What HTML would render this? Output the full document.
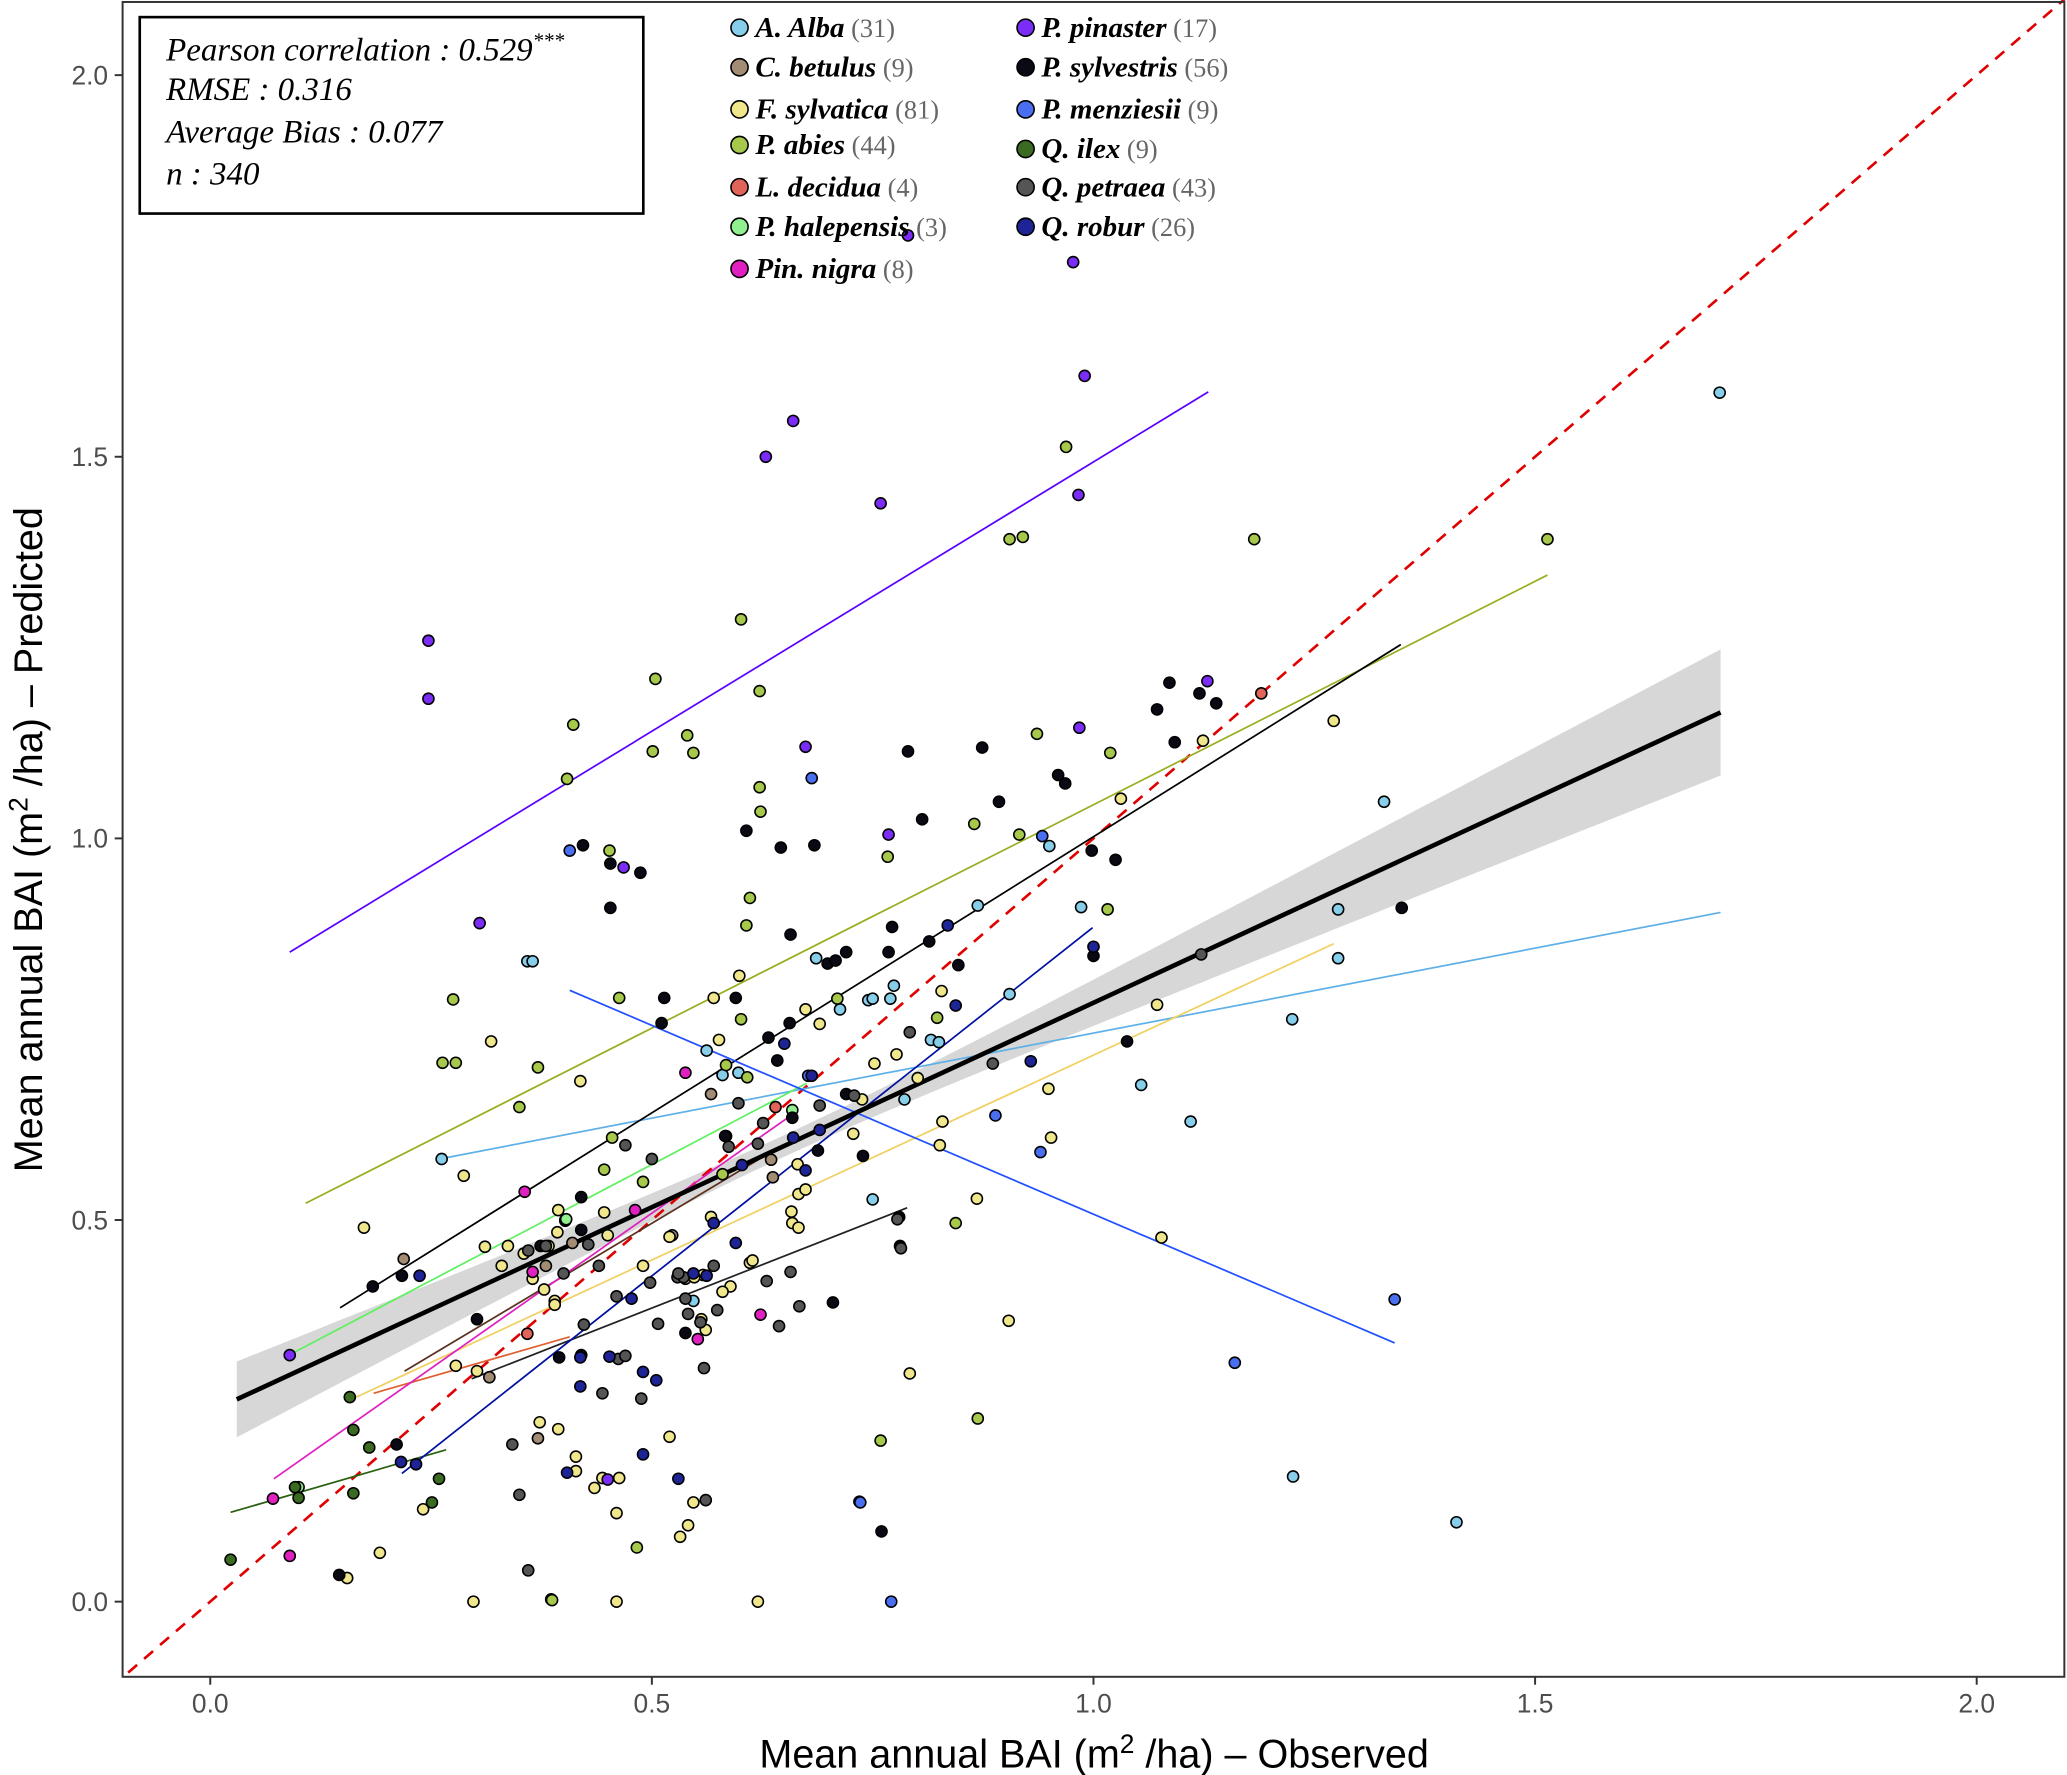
<!DOCTYPE html>
<html><head><meta charset="utf-8"><style>
html,body{margin:0;padding:0;background:#fff;}
svg{display:block;}
</style></head><body>
<svg id="chart" xmlns="http://www.w3.org/2000/svg" width="2067" height="1775" viewBox="0 0 1568 1346.5">
<rect x="0" y="0" width="1568" height="1346.5" fill="#fff"/>
<g id="grid"></g>
<g id="band"></g>
<g id="lines"></g>
<g id="points"></g>
<rect x="93" y="1.5" width="1473" height="1270.5" fill="none" stroke="#333" stroke-width="1.5"/>
<g id="axes"></g>
<g>
<rect x="106" y="13" width="382" height="149" fill="#fff" stroke="#000" stroke-width="2"/>
<text x="126" y="46" font-family="Liberation Serif, serif" font-style="italic" font-size="25">Pearson correlation : 0.529<tspan dy="-10" font-size="16">***</tspan></text>
<text x="126" y="76" font-family="Liberation Serif, serif" font-style="italic" font-size="25">RMSE : 0.316</text>
<text x="126" y="108" font-family="Liberation Serif, serif" font-style="italic" font-size="25">Average Bias : 0.077</text>
<text x="126" y="140" font-family="Liberation Serif, serif" font-style="italic" font-size="25">n : 340</text>
</g>
<g id="legend"></g>
<text x="830" y="1341" text-anchor="middle" font-family="Liberation Sans, sans-serif" font-size="30" fill="#000">Mean annual BAI (m<tspan dy="-11" font-size="20">2</tspan><tspan dy="11"> /ha) – Observed</tspan></text>
<text transform="translate(32,637) rotate(-90)" text-anchor="middle" font-family="Liberation Sans, sans-serif" font-size="30" fill="#000">Mean annual BAI (m<tspan dy="-11" font-size="20">2</tspan><tspan dy="11"> /ha) – Predicted</tspan></text>
</svg>
<script>
const NS='http://www.w3.org/2000/svg';
const xTicks=[0,0.5,1.0,1.5,2.0];
const xTickLabels=['0.0','0.5','1.0','1.5','2.0'];
const yTicks=[0,0.5,1.0,1.5,2.0];
const yTickLabels=['0.0','0.5','1.0','1.5','2.0'];
const species=['A. Alba','C. betulus','F. sylvatica','P. abies','L. decidua','P. halepensis','Pin. nigra','P. pinaster','P. sylvestris','P. menziesii','Q. ilex','Q. petraea','Q. robur'];
const counts=[31,9,81,44,4,3,8,17,56,9,9,43,26];
const fills=['#87CEEB','#A38C74','#F0E68C','#A6C84B','#E0645A','#90F090','#E020C0','#7B2CF6','#0A0A14','#4A6EF0','#3A6B20','#555555','#1E2496'];
const lineColors=['#5fb0e6','#5a3020','#f0d060','#9aad1f','#e06030','#60f060','#e020c0','#5a00ff','#000000','#2050ff','#2a6010','#222222','#0010a0'];
const fitLines=[[0.255,0.579,1.71,0.903],[0.22,0.302,0.632,0.587],[0.156,0.263,1.272,0.862],[0.108,0.522,1.514,1.345],[0.185,0.273,0.407,0.347],[0.089,0.323,0.675,0.679],[0.072,0.161,0.66,0.639],[0.09,0.851,1.13,1.585],[0.147,0.385,1.348,1.254],[0.407,0.801,1.341,0.339],[0.023,0.117,0.267,0.199],[0.296,0.292,0.789,0.516],[0.217,0.168,0.999,0.883]];
const pAlba=[[1.709,1.584],[1.329,1.048],[1.277,0.907],[1.277,0.843],[1.225,0.763],[1.054,0.677],[1.11,0.629],[0.986,0.91],[0.905,0.796],[0.869,0.912],[0.686,0.843],[0.774,0.807],[0.713,0.776],[0.745,0.788],[0.816,0.736],[0.825,0.733],[0.786,0.658],[0.562,0.722],[0.262,0.58],[0.359,0.839],[0.365,0.839],[0.547,0.394],[0.75,0.527],[1.226,0.164],[1.411,0.104],[0.402,0.499],[0.598,0.693],[0.58,0.69],[0.77,0.79],[0.75,0.79],[0.95,0.99]];
const pBetulus=[[0.219,0.449],[0.316,0.294],[0.371,0.214],[0.567,0.665],[0.635,0.579],[0.637,0.556],[0.523,0.48],[0.41,0.47],[0.38,0.44]];
const pSylvatica=[[1.272,1.154],[1.124,1.128],[1.031,1.052],[1.072,0.782],[1.077,0.477],[0.949,0.672],[0.952,0.608],[0.828,0.8],[0.777,0.717],[0.752,0.705],[0.738,0.658],[0.728,0.613],[0.829,0.629],[0.665,0.573],[0.666,0.534],[0.658,0.511],[0.659,0.496],[0.567,0.504],[0.52,0.478],[0.538,0.423],[0.558,0.428],[0.548,0.425],[0.589,0.413],[0.58,0.406],[0.556,0.37],[0.561,0.356],[0.611,0.444],[0.614,0.447],[0.666,0.49],[0.674,0.54],[0.446,0.51],[0.393,0.484],[0.394,0.513],[0.402,0.5],[0.383,0.466],[0.355,0.456],[0.337,0.466],[0.311,0.465],[0.378,0.409],[0.39,0.394],[0.365,0.423],[0.39,0.389],[0.302,0.302],[0.278,0.309],[0.373,0.235],[0.394,0.226],[0.414,0.19],[0.414,0.171],[0.435,0.149],[0.444,0.162],[0.46,0.116],[0.463,0.162],[0.547,0.13],[0.541,0.1],[0.532,0.085],[0.52,0.216],[0.192,0.064],[0.155,0.031],[0.241,0.121],[0.298,0],[0.386,0.003],[0.46,0],[0.62,0],[0.735,0.131],[0.792,0.299],[0.904,0.368],[0.868,0.528],[0.826,0.598],[0.801,0.686],[0.69,0.757],[0.674,0.776],[0.599,0.82],[0.57,0.791],[0.576,0.736],[0.419,0.682],[0.318,0.734],[0.287,0.558],[0.174,0.49],[0.33,0.44],[0.45,0.48],[0.49,0.44]];
const pAbies=[[0.601,1.287],[0.504,1.209],[0.54,1.135],[0.547,1.112],[0.501,1.114],[0.622,1.193],[0.622,1.067],[0.623,1.035],[0.411,1.149],[0.404,1.078],[0.969,1.513],[0.905,1.392],[0.92,1.395],[1.182,1.392],[1.514,1.392],[0.936,1.137],[1.019,1.112],[0.916,1.005],[0.865,1.019],[0.767,0.976],[0.611,0.922],[0.607,0.886],[0.452,0.984],[0.275,0.789],[0.263,0.706],[0.278,0.706],[0.371,0.7],[0.35,0.648],[0.463,0.791],[0.601,0.763],[0.608,0.687],[0.584,0.703],[0.823,0.765],[1.016,0.907],[0.446,0.566],[0.455,0.608],[0.844,0.496],[0.869,0.24],[0.759,0.211],[0.483,0.071],[0.387,0.002],[0.49,0.55],[0.71,0.79],[0.58,0.56]];
const pDecidua=[[1.19,1.19],[0.359,0.351],[0.584,0.61],[0.64,0.648]];
const pHalepensis=[[0.403,0.501],[0.659,0.644],[0.1,0.15]];
const pNigra=[[0.071,0.135],[0.09,0.06],[0.356,0.537],[0.365,0.432],[0.552,0.344],[0.623,0.376],[0.538,0.693],[0.481,0.513]];
const pPinaster=[[0.79,1.79],[0.977,1.755],[0.99,1.606],[0.66,1.547],[0.629,1.5],[0.759,1.439],[0.983,1.45],[0.247,1.259],[0.247,1.183],[0.674,1.12],[0.984,1.145],[1.129,1.206],[0.768,1.005],[0.468,0.962],[0.305,0.889],[0.09,0.323],[0.45,0.16]];
const pSylvestris=[[1.12,1.19],[1.086,1.204],[1.139,1.177],[1.072,1.169],[1.092,1.126],[0.79,1.114],[0.874,1.119],[0.96,1.083],[0.968,1.072],[0.893,1.048],[0.806,1.025],[0.607,1.01],[0.646,0.988],[0.684,0.991],[0.998,0.984],[1.025,0.972],[0.422,0.991],[0.453,0.967],[0.487,0.955],[0.453,0.909],[0.657,0.874],[0.772,0.884],[0.814,0.865],[0.768,0.851],[0.72,0.851],[0.699,0.836],[0.708,0.84],[0.847,0.834],[1.0,0.846],[0.514,0.791],[0.595,0.791],[0.656,0.758],[0.632,0.739],[0.511,0.758],[1.038,0.734],[0.642,0.709],[0.72,0.665],[0.583,0.61],[0.659,0.634],[0.688,0.591],[0.739,0.584],[0.42,0.53],[0.42,0.487],[0.184,0.413],[0.217,0.427],[0.374,0.466],[0.42,0.323],[0.302,0.37],[0.395,0.32],[0.538,0.352],[0.705,0.392],[0.78,0.504],[0.781,0.466],[0.211,0.206],[0.146,0.035],[1.349,0.909],[0.76,0.092]];
const pMenziesii=[[1.341,0.396],[1.16,0.313],[0.771,0],[0.736,0.13],[0.94,0.589],[0.889,0.637],[0.942,1.003],[0.681,1.079],[0.407,0.984],[0.677,0.689]];
const pIlex=[[0.023,0.055],[0.096,0.15],[0.1,0.136],[0.158,0.268],[0.162,0.225],[0.162,0.142],[0.18,0.202],[0.251,0.13],[0.259,0.161]];
const pPetraea=[[1.122,0.848],[0.886,0.705],[0.792,0.746],[0.729,0.663],[0.626,0.627],[0.598,0.653],[0.587,0.596],[0.47,0.598],[0.428,0.468],[0.38,0.466],[0.498,0.418],[0.529,0.425],[0.536,0.425],[0.538,0.397],[0.541,0.377],[0.555,0.366],[0.574,0.382],[0.507,0.364],[0.462,0.318],[0.47,0.322],[0.444,0.273],[0.488,0.266],[0.559,0.306],[0.644,0.361],[0.667,0.387],[0.342,0.206],[0.35,0.14],[0.36,0.041],[0.561,0.133],[0.778,0.501],[0.782,0.463],[0.657,0.432],[0.423,0.363],[0.36,0.46],[0.4,0.43],[0.46,0.4],[0.62,0.6],[0.69,0.65],[0.53,0.43],[0.57,0.44],[0.63,0.42],[0.5,0.58],[0.44,0.44]];
const pRobur=[[1.0,0.858],[0.929,0.708],[0.844,0.781],[0.835,0.886],[0.65,0.731],[0.681,0.689],[0.69,0.618],[0.66,0.608],[0.674,0.565],[0.602,0.572],[0.57,0.496],[0.595,0.47],[0.547,0.43],[0.562,0.427],[0.49,0.301],[0.505,0.29],[0.452,0.321],[0.419,0.282],[0.419,0.32],[0.477,0.397],[0.49,0.193],[0.53,0.161],[0.404,0.169],[0.216,0.183],[0.237,0.427],[0.233,0.18]];
const allPoints=[pAlba,pBetulus,pSylvatica,pAbies,pDecidua,pHalepensis,pNigra,pPinaster,pSylvestris,pMenziesii,pIlex,pPetraea,pRobur];
const overallFit=[0.03,0.265,1.71,1.165];
const xDomain=[-0.093,2.102], yDomain=[-0.098,2.096];

const X0=159.5,XS=670,Y0=1215,YS=579;
const sx=v=>X0+v*XS, sy=v=>Y0-v*YS;
function mk(tag,attrs,parent){const e=document.createElementNS(NS,tag);for(const k in attrs)e.setAttribute(k,attrs[k]);parent.appendChild(e);return e;}
const axes=document.getElementById('axes');
xTicks.forEach((t,i)=>{
  const l=mk('line',{x1:sx(t),x2:sx(t),y1:1272,y2:1278,stroke:'#333','stroke-width':1.5},axes);
  
  
  const tx=mk('text',{x:sx(t),y:1299,'text-anchor':'middle','font-family':'Liberation Sans, sans-serif','font-size':20,fill:'#4d4d4d'},axes);
  tx.textContent=xTickLabels[i];
  
  
});
yTicks.forEach((t,i)=>{
  const l=mk('line',{x1:87,x2:93,y1:sy(t),y2:sy(t),stroke:'#333','stroke-width':1.5},axes);
  
  
  const tx=mk('text',{x:82,y:sy(t)+7,'text-anchor':'end','font-family':'Liberation Sans, sans-serif','font-size':20,fill:'#4d4d4d'},axes);
  tx.textContent=yTickLabels[i];
  
  
});
const band=document.getElementById('band');
const fx1=overallFit[0],fy1=overallFit[1],fx2=overallFit[2],fy2=overallFit[3];
const slope=(fy2-fy1)/(fx2-fx1);
const fit=x=>fy1+slope*(x-fx1);
const se=x=>Math.sqrt(0.0002+0.0059*(x-0.65)*(x-0.65));
let up=[],dn=[];
for(let i=0;i<=60;i++){const x=fx1+(fx2-fx1)*i/60;up.push(sx(x)+','+sy(fit(x)+se(x)));dn.unshift(sx(x)+','+sy(fit(x)-se(x)));}
const bp=mk('polygon',{points:up.concat(dn).join(' '),fill:'#bdbdbd','fill-opacity':0.6},band);


const lines=document.getElementById('lines');
const idl=mk('line',{x1:sx(xDomain[0]),y1:sy(xDomain[0]),x2:sx(2.1),y2:sy(2.1),stroke:'#e00000','stroke-width':2,'stroke-dasharray':'9,7'},lines);


fitLines.forEach((f,i)=>{
  const l=mk('line',{x1:sx(f[0]),y1:sy(f[1]),x2:sx(f[2]),y2:sy(f[3]),stroke:lineColors[i],'stroke-width':1.3},lines);
  
  
});
const ol=mk('line',{x1:sx(fx1),y1:sy(fy1),x2:sx(fx2),y2:sy(fy2),stroke:'#000','stroke-width':3.5},lines);


const pts=document.getElementById('points');
allPoints.forEach((arr,i)=>{
  arr.forEach(p=>{
    const c=mk('circle',{cx:sx(p[0]),cy:sy(p[1]),r:4.2,fill:fills[i],stroke:'#000','stroke-width':1.2},pts);
    
    
  });
});
const lg=document.getElementById('legend');
const rows1=[21,51,83,110,142,172,204], rows2=[21,51,83,113,142,172];
species.forEach((s,i)=>{
  const col=i<7?0:1, r=i<7?rows1[i]:rows2[i-7];
  const cx=col?778:561;
  const g=mk('g',{},lg);
  
  
  mk('circle',{cx:cx,cy:r,r:6.5,fill:fills[i],stroke:'#000','stroke-width':1.2},g);
  const t=mk('text',{x:cx+12,y:r+7,'font-family':'Liberation Serif, serif','font-size':22},g);
  const a=mk('tspan',{'font-weight':'bold','font-style':'italic',fill:'#000'},t);a.textContent=s;
  const b=mk('tspan',{fill:'#666','font-size':20},t);b.textContent=' ('+counts[i]+')';
});
</script>
</body></html>
